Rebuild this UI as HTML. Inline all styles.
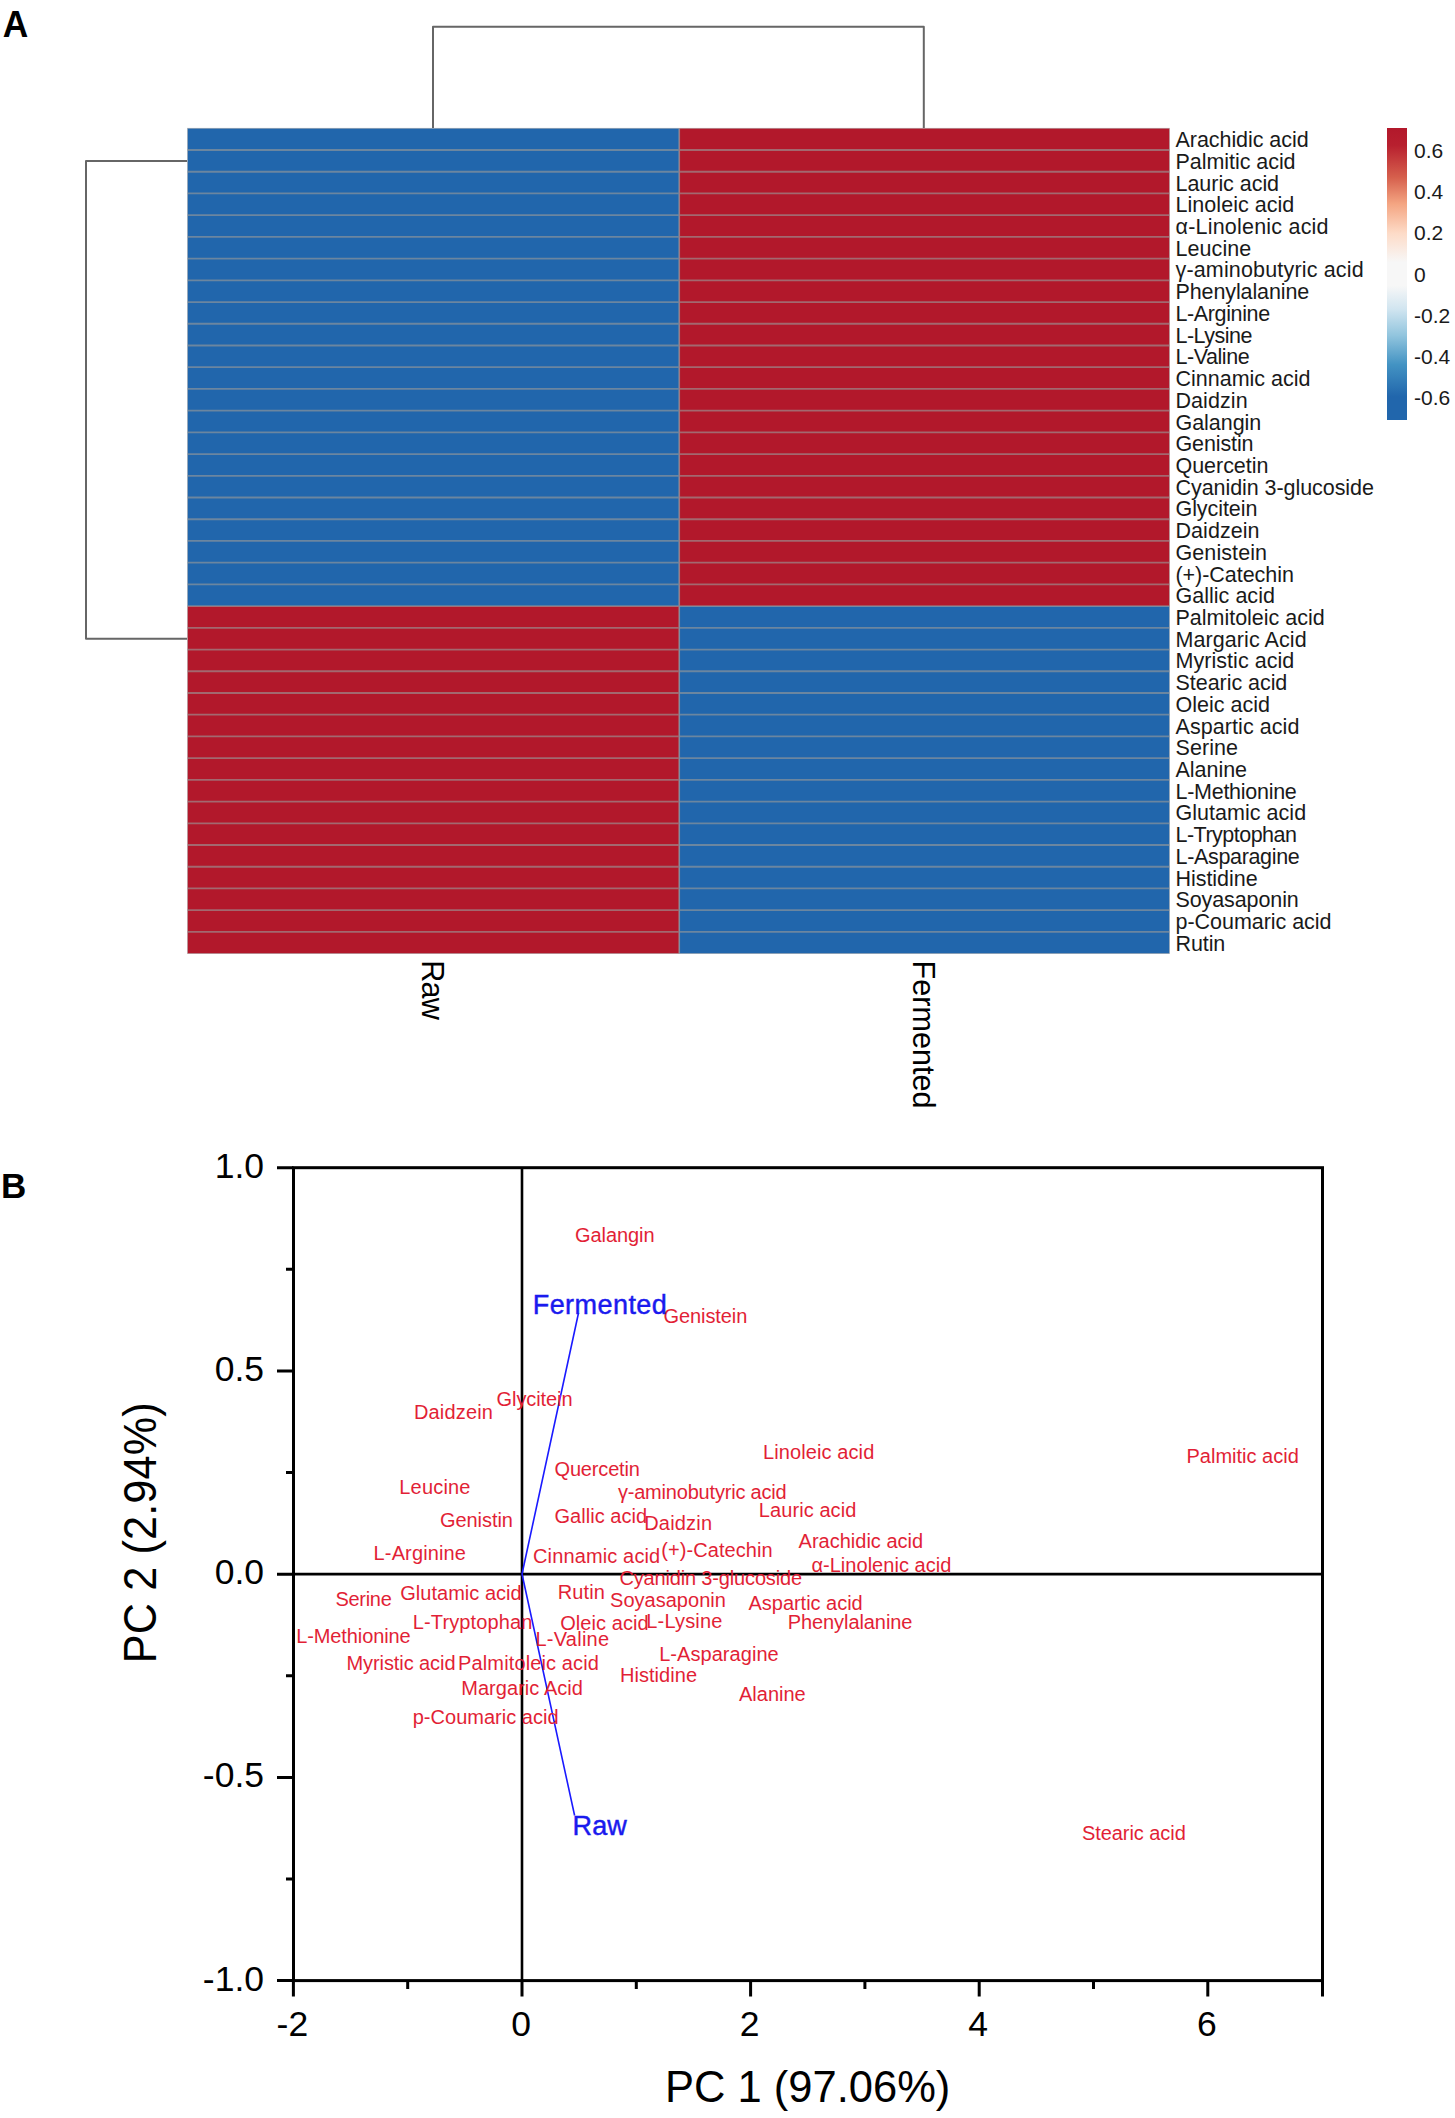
<!DOCTYPE html>
<html><head><meta charset="utf-8"><title>Heatmap and PCA biplot</title>
<style>
html,body{margin:0;padding:0;background:#fff;}
body{width:1455px;height:2118px;overflow:hidden;}
svg{display:block;font-family:"Liberation Sans", sans-serif;}
</style></head><body>
<svg width="1455" height="2118" viewBox="0 0 1455 2118">
<rect width="1455" height="2118" fill="#fff"/>
<rect x="187.5" y="128.3" width="491.70000000000005" height="477.8052631578947" fill="#2166ac"/>
<rect x="679.2" y="128.3" width="490.29999999999995" height="477.8052631578947" fill="#b2182b"/>
<rect x="187.5" y="606.1052631578947" width="491.70000000000005" height="347.49473684210534" fill="#b2182b"/>
<rect x="679.2" y="606.1052631578947" width="490.29999999999995" height="347.49473684210534" fill="#2166ac"/>
<path d="M187.5 150.02H1169.5M187.5 171.74H1169.5M187.5 193.46H1169.5M187.5 215.17H1169.5M187.5 236.89H1169.5M187.5 258.61H1169.5M187.5 280.33H1169.5M187.5 302.05H1169.5M187.5 323.77H1169.5M187.5 345.48H1169.5M187.5 367.20H1169.5M187.5 388.92H1169.5M187.5 410.64H1169.5M187.5 432.36H1169.5M187.5 454.08H1169.5M187.5 475.79H1169.5M187.5 497.51H1169.5M187.5 519.23H1169.5M187.5 540.95H1169.5M187.5 562.67H1169.5M187.5 584.39H1169.5M187.5 606.11H1169.5M187.5 627.82H1169.5M187.5 649.54H1169.5M187.5 671.26H1169.5M187.5 692.98H1169.5M187.5 714.70H1169.5M187.5 736.42H1169.5M187.5 758.13H1169.5M187.5 779.85H1169.5M187.5 801.57H1169.5M187.5 823.29H1169.5M187.5 845.01H1169.5M187.5 866.73H1169.5M187.5 888.44H1169.5M187.5 910.16H1169.5M187.5 931.88H1169.5M679.2 128.3V953.6" stroke="#999" stroke-opacity="0.62" stroke-width="1.8" fill="none"/>
<rect x="187.5" y="128.3" width="982.0" height="825.3" stroke="#a0a0a0" stroke-width="0.8" fill="none" opacity="0.6"/>
<text x="1175.5" y="147.16" font-size="21.5" textLength="133.14" lengthAdjust="spacing" fill="#1a1a1a">Arachidic acid</text>
<text x="1175.5" y="168.88" font-size="21.5" textLength="120.09" lengthAdjust="spacing" fill="#1a1a1a">Palmitic acid</text>
<text x="1175.5" y="190.60" font-size="21.5" textLength="103.58" lengthAdjust="spacing" fill="#1a1a1a">Lauric acid</text>
<text x="1175.5" y="212.31" font-size="21.5" textLength="118.83" lengthAdjust="spacing" fill="#1a1a1a">Linoleic acid</text>
<text x="1175.5" y="234.03" font-size="21.5" textLength="153.08" lengthAdjust="spacing" fill="#1a1a1a">α-Linolenic acid</text>
<text x="1175.5" y="255.75" font-size="21.5" textLength="75.73" lengthAdjust="spacing" fill="#1a1a1a">Leucine</text>
<text x="1175.5" y="277.47" font-size="21.5" textLength="188.12" lengthAdjust="spacing" fill="#1a1a1a">γ-aminobutyric acid</text>
<text x="1175.5" y="299.19" font-size="21.5" textLength="133.79" lengthAdjust="spacing" fill="#1a1a1a">Phenylalanine</text>
<text x="1175.5" y="320.91" font-size="21.5" textLength="94.60" lengthAdjust="spacing" fill="#1a1a1a">L-Arginine</text>
<text x="1175.5" y="342.62" font-size="21.5" textLength="76.87" lengthAdjust="spacing" fill="#1a1a1a">L-Lysine</text>
<text x="1175.5" y="364.34" font-size="21.5" textLength="74.10" lengthAdjust="spacing" fill="#1a1a1a">L-Valine</text>
<text x="1175.5" y="386.06" font-size="21.5" textLength="134.93" lengthAdjust="spacing" fill="#1a1a1a">Cinnamic acid</text>
<text x="1175.5" y="407.78" font-size="21.5" textLength="72.10" lengthAdjust="spacing" fill="#1a1a1a">Daidzin</text>
<text x="1175.5" y="429.50" font-size="21.5" textLength="85.78" lengthAdjust="spacing" fill="#1a1a1a">Galangin</text>
<text x="1175.5" y="451.22" font-size="21.5" textLength="78.08" lengthAdjust="spacing" fill="#1a1a1a">Genistin</text>
<text x="1175.5" y="472.94" font-size="21.5" textLength="92.92" lengthAdjust="spacing" fill="#1a1a1a">Quercetin</text>
<text x="1175.5" y="494.65" font-size="21.5" textLength="198.39" lengthAdjust="spacing" fill="#1a1a1a">Cyanidin 3-glucoside</text>
<text x="1175.5" y="516.37" font-size="21.5" textLength="81.85" lengthAdjust="spacing" fill="#1a1a1a">Glycitein</text>
<text x="1175.5" y="538.09" font-size="21.5" textLength="83.97" lengthAdjust="spacing" fill="#1a1a1a">Daidzein</text>
<text x="1175.5" y="559.81" font-size="21.5" textLength="91.54" lengthAdjust="spacing" fill="#1a1a1a">Genistein</text>
<text x="1175.5" y="581.53" font-size="21.5" textLength="118.39" lengthAdjust="spacing" fill="#1a1a1a">(+)-Catechin</text>
<text x="1175.5" y="603.25" font-size="21.5" textLength="99.39" lengthAdjust="spacing" fill="#1a1a1a">Gallic acid</text>
<text x="1175.5" y="624.96" font-size="21.5" textLength="149.17" lengthAdjust="spacing" fill="#1a1a1a">Palmitoleic acid</text>
<text x="1175.5" y="646.68" font-size="21.5" textLength="131.15" lengthAdjust="spacing" fill="#1a1a1a">Margaric Acid</text>
<text x="1175.5" y="668.40" font-size="21.5" textLength="118.77" lengthAdjust="spacing" fill="#1a1a1a">Myristic acid</text>
<text x="1175.5" y="690.12" font-size="21.5" textLength="111.84" lengthAdjust="spacing" fill="#1a1a1a">Stearic acid</text>
<text x="1175.5" y="711.84" font-size="21.5" textLength="94.51" lengthAdjust="spacing" fill="#1a1a1a">Oleic acid</text>
<text x="1175.5" y="733.56" font-size="21.5" textLength="123.89" lengthAdjust="spacing" fill="#1a1a1a">Aspartic acid</text>
<text x="1175.5" y="755.27" font-size="21.5" textLength="62.46" lengthAdjust="spacing" fill="#1a1a1a">Serine</text>
<text x="1175.5" y="776.99" font-size="21.5" textLength="71.53" lengthAdjust="spacing" fill="#1a1a1a">Alanine</text>
<text x="1175.5" y="798.71" font-size="21.5" textLength="121.30" lengthAdjust="spacing" fill="#1a1a1a">L-Methionine</text>
<text x="1175.5" y="820.43" font-size="21.5" textLength="130.65" lengthAdjust="spacing" fill="#1a1a1a">Glutamic acid</text>
<text x="1175.5" y="842.15" font-size="21.5" textLength="121.49" lengthAdjust="spacing" fill="#1a1a1a">L-Tryptophan</text>
<text x="1175.5" y="863.87" font-size="21.5" textLength="124.29" lengthAdjust="spacing" fill="#1a1a1a">L-Asparagine</text>
<text x="1175.5" y="885.59" font-size="21.5" textLength="82.15" lengthAdjust="spacing" fill="#1a1a1a">Histidine</text>
<text x="1175.5" y="907.30" font-size="21.5" textLength="123.33" lengthAdjust="spacing" fill="#1a1a1a">Soyasaponin</text>
<text x="1175.5" y="929.02" font-size="21.5" textLength="156.03" lengthAdjust="spacing" fill="#1a1a1a">p-Coumaric acid</text>
<text x="1175.5" y="950.74" font-size="21.5" textLength="49.80" lengthAdjust="spacing" fill="#1a1a1a">Rutin</text>
<path d="M187 161H86V638.7H187" stroke="#666" stroke-width="2" fill="none" stroke-linejoin="round"/>
<path d="M433 128V26.8H923.8V128" stroke="#666" stroke-width="2" fill="none" stroke-linejoin="round"/>
<text transform="translate(422,960.2) rotate(90)" font-size="30.6" textLength="59.6" lengthAdjust="spacing" fill="#000">Raw</text>
<text transform="translate(913,960.5) rotate(90)" font-size="30.6" fill="#000">Fermented</text>
<defs><linearGradient id="cb" x1="0" y1="0" x2="0" y2="1"><stop offset="0" stop-color="#b2182b"/><stop offset="0.06" stop-color="#b8202f"/><stop offset="0.17" stop-color="#d6604d"/><stop offset="0.26" stop-color="#f4a582"/><stop offset="0.36" stop-color="#fddbc7"/><stop offset="0.46" stop-color="#f7f7f7"/><stop offset="0.54" stop-color="#f7f7f7"/><stop offset="0.62" stop-color="#d1e5f0"/><stop offset="0.71" stop-color="#92c5de"/><stop offset="0.81" stop-color="#4393c3"/><stop offset="0.92" stop-color="#2166ac"/><stop offset="1" stop-color="#2166ac"/></linearGradient></defs>
<rect x="1387" y="128" width="20" height="292" fill="url(#cb)"/>
<text x="1414" y="158.20" font-size="21" fill="#1a1a1a">0.6</text>
<text x="1414" y="199.33" font-size="21" fill="#1a1a1a">0.4</text>
<text x="1414" y="240.46" font-size="21" fill="#1a1a1a">0.2</text>
<text x="1414" y="281.59" font-size="21" fill="#1a1a1a">0</text>
<text x="1414" y="322.72" font-size="21" fill="#1a1a1a">-0.2</text>
<text x="1414" y="363.85" font-size="21" fill="#1a1a1a">-0.4</text>
<text x="1414" y="404.98" font-size="21" fill="#1a1a1a">-0.6</text>
<text transform="translate(2.8,36.7) scale(1.04,1.07)" font-size="34" font-weight="bold" fill="#000">A</text>
<text x="1" y="1198" font-size="35" font-weight="bold" fill="#000">B</text>
<rect x="293.5" y="1167.7" width="1029.0" height="812.8999999999999" stroke="#000" stroke-width="3" fill="none"/>
<path d="M522.0 1167.7V1980.6M293.5 1574.15H1322.5" stroke="#000" stroke-width="2.6" fill="none"/>
<path d="M293.40 1980.6V1996.6M522.00 1980.6V1996.6M750.60 1980.6V1996.6M979.20 1980.6V1996.6M1207.80 1980.6V1996.6M407.70 1980.6V1989.1M636.30 1980.6V1989.1M864.90 1980.6V1989.1M1093.50 1980.6V1989.1M1322.5 1980.6V1996.6M293.5 1167.70H277.0M293.5 1370.93H277.0M293.5 1574.15H277.0M293.5 1777.38H277.0M293.5 1980.60H277.0M293.5 1269.31H286.0M293.5 1472.54H286.0M293.5 1675.76H286.0M293.5 1878.99H286.0" stroke="#000" stroke-width="3" fill="none"/>
<text x="264" y="1177.70" font-size="35.5" text-anchor="end" fill="#000">1.0</text>
<text x="264" y="1380.93" font-size="35.5" text-anchor="end" fill="#000">0.5</text>
<text x="264" y="1584.15" font-size="35.5" text-anchor="end" fill="#000">0.0</text>
<text x="264" y="1787.38" font-size="35.5" text-anchor="end" fill="#000">-0.5</text>
<text x="264" y="1990.60" font-size="35.5" text-anchor="end" fill="#000">-1.0</text>
<text x="292.40" y="2036" font-size="35.5" text-anchor="middle" fill="#000">-2</text>
<text x="521.00" y="2036" font-size="35.5" text-anchor="middle" fill="#000">0</text>
<text x="749.60" y="2036" font-size="35.5" text-anchor="middle" fill="#000">2</text>
<text x="978.20" y="2036" font-size="35.5" text-anchor="middle" fill="#000">4</text>
<text x="1206.80" y="2036" font-size="35.5" text-anchor="middle" fill="#000">6</text>
<text x="665" y="2102" font-size="43.5" fill="#000">PC 1 (97.06%)</text>
<text transform="translate(155.8,1663.3) rotate(-90) scale(1,1.08)" font-size="43.2" textLength="261" lengthAdjust="spacing" fill="#000">PC 2 (2.94%)</text>
<path d="M522 1574L578.5 1313M522 1574L574.6 1815.5" stroke="#1a1aff" stroke-width="1.6" fill="none"/>
<text x="575.00" y="1241.8" font-size="20" textLength="79.56" lengthAdjust="spacing" fill="#e21f36">Galangin</text>
<text x="663.50" y="1323.2" font-size="20" textLength="83.80" lengthAdjust="spacing" fill="#e21f36">Genistein</text>
<text x="496.60" y="1406.2" font-size="20" textLength="75.90" lengthAdjust="spacing" fill="#e21f36">Glycitein</text>
<text x="413.90" y="1418.6" font-size="20" textLength="79.03" lengthAdjust="spacing" fill="#e21f36">Daidzein</text>
<text x="763.00" y="1459.2" font-size="20" textLength="111.28" lengthAdjust="spacing" fill="#e21f36">Linoleic acid</text>
<text x="1186.50" y="1462.5" font-size="20" textLength="112.27" lengthAdjust="spacing" fill="#e21f36">Palmitic acid</text>
<text x="554.50" y="1476.1" font-size="20" textLength="85.42" lengthAdjust="spacing" fill="#e21f36">Quercetin</text>
<text x="399.30" y="1493.6" font-size="20" textLength="71.16" lengthAdjust="spacing" fill="#e21f36">Leucine</text>
<text x="617.90" y="1498.8" font-size="20" textLength="168.80" lengthAdjust="spacing" fill="#e21f36">γ-aminobutyric acid</text>
<text x="758.80" y="1516.5" font-size="20" textLength="97.52" lengthAdjust="spacing" fill="#e21f36">Lauric acid</text>
<text x="554.50" y="1523.1" font-size="20" textLength="92.57" lengthAdjust="spacing" fill="#e21f36">Gallic acid</text>
<text x="439.90" y="1527.0" font-size="20" textLength="73.08" lengthAdjust="spacing" fill="#e21f36">Genistin</text>
<text x="644.20" y="1530.3" font-size="20" textLength="67.80" lengthAdjust="spacing" fill="#e21f36">Daidzin</text>
<text x="798.60" y="1547.8" font-size="20" textLength="124.52" lengthAdjust="spacing" fill="#e21f36">Arachidic acid</text>
<text x="661.30" y="1557.1" font-size="20" textLength="111.31" lengthAdjust="spacing" fill="#e21f36">(+)-Catechin</text>
<text x="533.00" y="1562.7" font-size="20" textLength="127.21" lengthAdjust="spacing" fill="#e21f36">Cinnamic acid</text>
<text x="373.60" y="1560.0" font-size="20" textLength="92.37" lengthAdjust="spacing" fill="#e21f36">L-Arginine</text>
<text x="811.40" y="1571.5" font-size="20" textLength="139.92" lengthAdjust="spacing" fill="#e21f36">α-Linolenic acid</text>
<text x="619.40" y="1585.4" font-size="20" textLength="182.67" lengthAdjust="spacing" fill="#e21f36">Cyanidin 3-glucoside</text>
<text x="335.40" y="1606.4" font-size="20" textLength="56.41" lengthAdjust="spacing" fill="#e21f36">Serine</text>
<text x="400.30" y="1600.2" font-size="20" textLength="121.36" lengthAdjust="spacing" fill="#e21f36">Glutamic acid</text>
<text x="557.80" y="1598.8" font-size="20" textLength="47.00" lengthAdjust="spacing" fill="#e21f36">Rutin</text>
<text x="610.10" y="1606.6" font-size="20" textLength="115.76" lengthAdjust="spacing" fill="#e21f36">Soyasaponin</text>
<text x="748.50" y="1609.6" font-size="20" textLength="114.20" lengthAdjust="spacing" fill="#e21f36">Aspartic acid</text>
<text x="412.70" y="1629.3" font-size="20" textLength="119.72" lengthAdjust="spacing" fill="#e21f36">L-Tryptophan</text>
<text x="560.20" y="1629.5" font-size="20" textLength="88.41" lengthAdjust="spacing" fill="#e21f36">Oleic acid</text>
<text x="646.20" y="1627.8" font-size="20" textLength="76.26" lengthAdjust="spacing" fill="#e21f36">L-Lysine</text>
<text x="787.70" y="1629.4" font-size="20" textLength="124.76" lengthAdjust="spacing" fill="#e21f36">Phenylalanine</text>
<text x="296.20" y="1643.0" font-size="20" textLength="114.43" lengthAdjust="spacing" fill="#e21f36">L-Methionine</text>
<text x="535.50" y="1645.8" font-size="20" textLength="73.61" lengthAdjust="spacing" fill="#e21f36">L-Valine</text>
<text x="659.20" y="1661.4" font-size="20" textLength="119.47" lengthAdjust="spacing" fill="#e21f36">L-Asparagine</text>
<text x="346.40" y="1670.2" font-size="20" textLength="109.12" lengthAdjust="spacing" fill="#e21f36">Myristic acid</text>
<text x="458.10" y="1670.2" font-size="20" textLength="140.75" lengthAdjust="spacing" fill="#e21f36">Palmitoleic acid</text>
<text x="620.00" y="1682.0" font-size="20" textLength="77.00" lengthAdjust="spacing" fill="#e21f36">Histidine</text>
<text x="461.20" y="1694.5" font-size="20" textLength="121.76" lengthAdjust="spacing" fill="#e21f36">Margaric Acid</text>
<text x="739.00" y="1701.4" font-size="20" textLength="66.72" lengthAdjust="spacing" fill="#e21f36">Alanine</text>
<text x="412.70" y="1724.4" font-size="20" textLength="145.91" lengthAdjust="spacing" fill="#e21f36">p-Coumaric acid</text>
<text x="1081.90" y="1839.6" font-size="20" textLength="103.90" lengthAdjust="spacing" fill="#e21f36">Stearic acid</text>
<text x="532.70" y="1313.5" font-size="27" textLength="134.16" lengthAdjust="spacing" fill="#1a1aee" stroke="#1a1aee" stroke-width="0.45">Fermented</text>
<text x="572.60" y="1835.0" font-size="27" textLength="54.22" lengthAdjust="spacing" fill="#1a1aee" stroke="#1a1aee" stroke-width="0.45">Raw</text>
</svg>
</body></html>
